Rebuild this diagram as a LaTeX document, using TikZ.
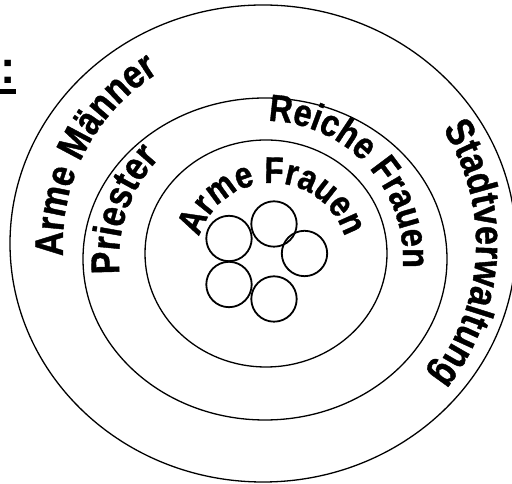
\documentclass[tikz,border=0pt]{standalone}
\usepackage{fontspec}
\setmainfont{Liberation Sans}
\newfontfamily\arcfont{Liberation Sans}[FakeStretch=0.85, FakeBold=1]
\usetikzlibrary{decorations.text}

\begin{document}
\begin{tikzpicture}[
  x=1pt, y=1pt,
  ring/.style={draw=black, line width=1.3pt},
  cell/.style={draw=black, line width=1.8pt},
  arctext/.style 2 args={decorate, decoration={text along path, text align=center,
                  text={|\arcfont\bfseries\fontsize{#1}{#1}\selectfont|#2}}}
]
\useasboundingbox (0,0) rectangle (512,484);

% ---- centres of the rings
\coordinate (co) at (263,240.5);
\coordinate (cm) at (265,225);
\coordinate (cf) at (272,225);
\coordinate (ci) at (266,230.5);

% ---- heading (cut off at the left edge)
\node[anchor=base west, inner sep=0pt, font=\fontsize{46}{46}\selectfont\bfseries] (hd) at (0,400) {:};
\draw[line width=5pt] ([yshift=-7.5pt]hd.base west) -- ([yshift=-7.5pt]hd.base east);

% ---- three rings
\draw[ring] (co) ellipse [x radius=253, y radius=238.5];
\draw[ring] (cm) ellipse [x radius=182, y radius=161];
\draw[ring] (ci) ellipse [x radius=121, y radius=113.5];

% ---- labels along the rings
\path[arctext={40}{Arme Männer}] ([shift={(215:200)}]co) arc [start angle=215, end angle=90, radius=200];
\path[arctext={40}{Stadtverwaltung}] ([shift={(60:213)}]co) arc [start angle=60, end angle=-66, radius=213];
\path[arctext={40}{Priester}] ([shift={(212:146)}]cm) arc [start angle=212, end angle=110, radius=146];
\path[arctext={38}{Reiche Frauen}] ([shift={(113.5:138)}]cm) arc [start angle=113.5, end angle=-28.5, radius=138];
\path[arctext={37}{Arme Frauen}] ([shift={(190:76)}]cf) arc [start angle=190, end angle=-10, radius=76];

% ---- five small circles in the middle
\draw[cell] (229,245.5) circle [radius=22.7];
\draw[cell] (274,260) circle [radius=22.7];
\draw[cell] (304.5,230.5) circle [radius=22.7];
\draw[cell] (229,199.5) circle [radius=22.7];
\draw[cell] (274,185) circle [radius=22.7];
\end{tikzpicture}
\end{document}
